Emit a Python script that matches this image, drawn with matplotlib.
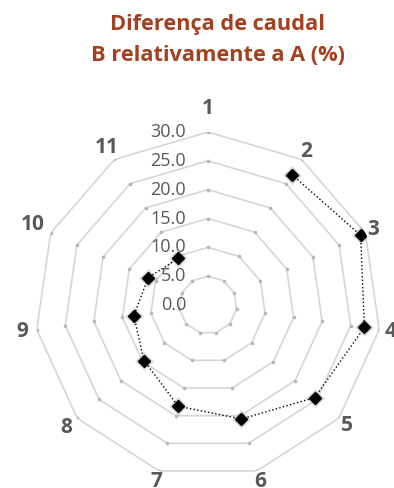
import numpy as np
import matplotlib.pyplot as plt
import matplotlib.transforms as mtransforms

plt.rcParams['font.family'] = ['Open Sans', 'DejaVu Sans']

categories = ["1", "2", "3", "4", "5", "6", "7", "8", "9", "10", "11"]
# point 1 has no value in the original chart
values = [np.nan, 26.9, 29.1, 27.4, 24.5, 20.6, 18.3, 14.7, 13.0, 11.4, 9.6]
ring_values = [0, 5, 10, 15, 20, 25, 30]
ring_labels = ["0.0", "5.0", "10.0", "15.0", "20.0", "25.0", "30.0"]

n = len(categories)
theta = np.arange(n) * 2 * np.pi / n

fig = plt.figure(figsize=(3.94, 4.88), dpi=100)
ax = fig.add_axes([35 / 394, 10 / 488, 346 / 394, 346 / 488], projection="polar")
ax.set_theta_zero_location("N")
ax.set_theta_direction(-1)
ax.set_ylim(0, 30)
ax.axis("off")

# polygon rings
th_closed = np.append(theta, theta[0])
for r in ring_values[1:]:
    ax.plot(th_closed, [r] * (n + 1), color="#d6d6d6", lw=1.2, zorder=1)
    ax.plot(theta, [r] * n, ls="none", marker="o", ms=1.6, color="#b8b8b8", zorder=1)

# radial value labels next to spoke 1
off = mtransforms.offset_copy(ax.transData, fig=fig, x=-22, y=0, units="dots")
for r, lab in zip(ring_values, ring_labels):
    ax.text(0, r, lab, transform=off, ha="right", va="center",
            fontsize=13, color="#595959", zorder=3)

# category labels (distance from centre in pixels, as Excel places them)
label_px = [197, 182, 182, 185, 184, 184, 184, 187, 188, 193, 187]
for t, c, d in zip(theta, categories, label_px):
    ax.text(t, d / 173 * 30, c, ha="center", va="center", fontsize=15,
            fontweight="bold", color="#595959", clip_on=False)

# data series
ax.plot(theta, values, ls="none", marker="D", ms=7.5, color="#9a9a9a",
        alpha=0.35, zorder=3, markeredgewidth=2.5)
ax.plot(theta, values, color="black", ls=":", lw=1.0, marker="D", ms=6,
        markerfacecolor="black", markeredgecolor="black", zorder=4)

fig.text(218 / 394, 1 - 40 / 488, "Diferença de caudal\nB relativamente a A (%)",
         ha="center", va="center", fontsize=15.7, fontweight="bold",
         color="#a5401f", linespacing=1.6)

fig.savefig("out.png", dpi=100)
